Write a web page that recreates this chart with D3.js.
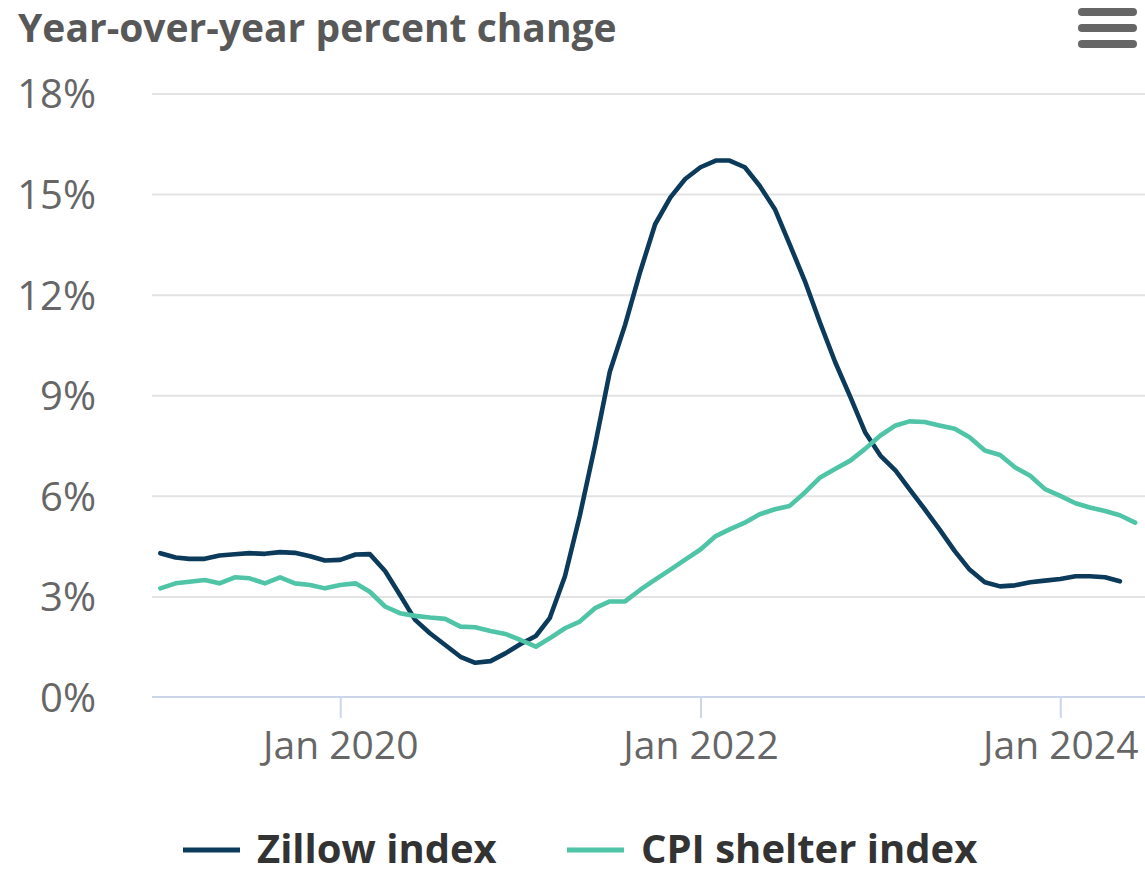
<!DOCTYPE html>
<html>
<head>
<meta charset="utf-8">
<script src="https://cdn.jsdelivr.net/npm/d3@7"></script>
<style>
  html, body { margin: 0; padding: 0; background: #fff; }
  svg { display: block; font-family: "Open Sans", "Noto Sans", sans-serif; }
</style>
</head>
<body>
<svg id="chart" width="1145" height="875"></svg>
<script>
// Monthly series, starting January 2019 (year-over-year % change)
const startYear = 2019;
const zillowIndex = [
  4.29, 4.16, 4.12, 4.12, 4.22, 4.26, 4.29, 4.27, 4.32, 4.30, 4.20, 4.07,
  4.09, 4.25, 4.26, 3.76, 3.05, 2.30, 1.90, 1.55, 1.20, 1.02, 1.07, 1.30,
  1.58, 1.82, 2.35, 3.60, 5.40, 7.50, 9.70, 11.10, 12.70, 14.10, 14.90, 15.45,
  15.80, 16.00, 16.00, 15.80, 15.25, 14.55, 13.50, 12.40, 11.15, 10.00, 8.95, 7.90,
  7.20, 6.75, 6.20, 5.60, 5.00, 4.35, 3.80, 3.42, 3.30, 3.33, 3.42, 3.47,
  3.52, 3.60, 3.60, 3.57, 3.45
];
const cpiShelter = [
  3.24, 3.39, 3.44, 3.49, 3.39, 3.57, 3.54, 3.39, 3.57, 3.39, 3.34, 3.24,
  3.34, 3.39, 3.14, 2.70, 2.50, 2.42, 2.37, 2.33, 2.10, 2.08, 1.97, 1.88,
  1.70, 1.50, 1.75, 2.05, 2.25, 2.65, 2.85, 2.85, 3.20, 3.50, 3.80, 4.10,
  4.40, 4.80, 5.00, 5.20, 5.45, 5.60, 5.70, 6.10, 6.55, 6.80, 7.05, 7.40,
  7.80, 8.10, 8.22, 8.20, 8.10, 8.00, 7.75, 7.35, 7.22, 6.85, 6.60, 6.20,
  6.00, 5.78, 5.65, 5.55, 5.42, 5.20
];
const yTicks = [0, 3, 6, 9, 12, 15, 18];
const xTickYears = [2020, 2022, 2024];
const seriesNames = ["Zillow index", "CPI shelter index"];
const seriesColors = ["#0c3a5b", "#50c4a7"];

const toSeries = values => values.map((v, i) => ({
  date: new Date(Date.UTC(startYear, i, 1)),
  value: v
}));
const series = [toSeries(zillowIndex), toSeries(cpiShelter)];

const svg = d3.select("#chart");
const plot = { left: 150, right: 1145, top: 93.5, bottom: 697 };
const labelFont = "\"Open Sans\", sans-serif";

const x = d3.scaleUtc()
  .domain([new Date(Date.UTC(2018, 11, 11)), new Date(Date.UTC(2024, 5, 21))])
  .range([plot.left, plot.right]);
const y = d3.scaleLinear().domain([0, 18]).range([plot.bottom, plot.top]);

// Title
svg.append("text")
  .attr("x", 18).attr("y", 42)
  .attr("font-size", 39).attr("font-weight", 700)
  .attr("fill", "#585858")
  .text("Year-over-year percent change");

// Menu button
const menu = svg.append("g").attr("fill", "#666");
[12, 28, 44].forEach(cy => {
  menu.append("rect")
    .attr("x", 1078).attr("y", cy - 4).attr("width", 59).attr("height", 8)
    .attr("rx", 4);
});

// Horizontal grid + y labels
const yAxis = d3.axisLeft(y).tickValues(yTicks).tickFormat(d => d + "%")
  .tickSize(-(plot.right - plot.left - 2)).tickPadding(0);
const yG = svg.append("g").attr("transform", `translate(${plot.left + 2},0)`).call(yAxis);
yG.select(".domain").remove();
yG.selectAll(".tick line").attr("stroke", "#e3e3e3").attr("stroke-width", 2);
yG.selectAll(".tick text")
  .attr("x", 96 - (plot.left + 2)).attr("text-anchor", "end").attr("dy", "0.36em")
  .attr("font-size", 40).attr("fill", "#666").attr("font-family", labelFont);
yG.selectAll(".tick").filter(d => d === 0).select("line").remove();

// X axis
const xAxis = d3.axisBottom(x)
  .tickValues(xTickYears.map(yr => new Date(Date.UTC(yr, 0, 1))))
  .tickFormat(d3.utcFormat("Jan %Y"))
  .tickSize(21).tickPadding(13).tickSizeOuter(0);
const xG = svg.append("g").attr("transform", `translate(0,${plot.bottom})`).call(xAxis);
xG.select(".domain").attr("stroke", "#ccd6eb").attr("stroke-width", 2)
  .attr("d", `M${plot.left + 2},0H${plot.right}`);
xG.selectAll(".tick line").attr("stroke", "#ccd6eb").attr("stroke-width", 2);
xG.selectAll(".tick text")
  .attr("font-size", 39).attr("fill", "#666").attr("font-family", labelFont);

// Lines
const line = d3.line().x(d => x(d.date)).y(d => y(d.value));
series.forEach((s, i) => {
  svg.append("path")
    .datum(s)
    .attr("fill", "none")
    .attr("stroke", seriesColors[i])
    .attr("stroke-width", 4.6)
    .attr("stroke-linejoin", "round")
    .attr("stroke-linecap", "round")
    .attr("d", line);
});

// Legend
const legendX = [183, 567];
seriesNames.forEach((name, i) => {
  const g = svg.append("g").attr("transform", `translate(${legendX[i]},850)`);
  g.append("line").attr("x1", 0).attr("x2", 57).attr("y1", 0).attr("y2", 0)
    .attr("stroke", seriesColors[i]).attr("stroke-width", 5);
  g.append("text").attr("x", 74).attr("y", 0).attr("dy", "0.33em")
    .attr("font-size", 40).attr("font-weight", 700).attr("fill", "#333")
    .text(name);
});
</script>
</body>
</html>
